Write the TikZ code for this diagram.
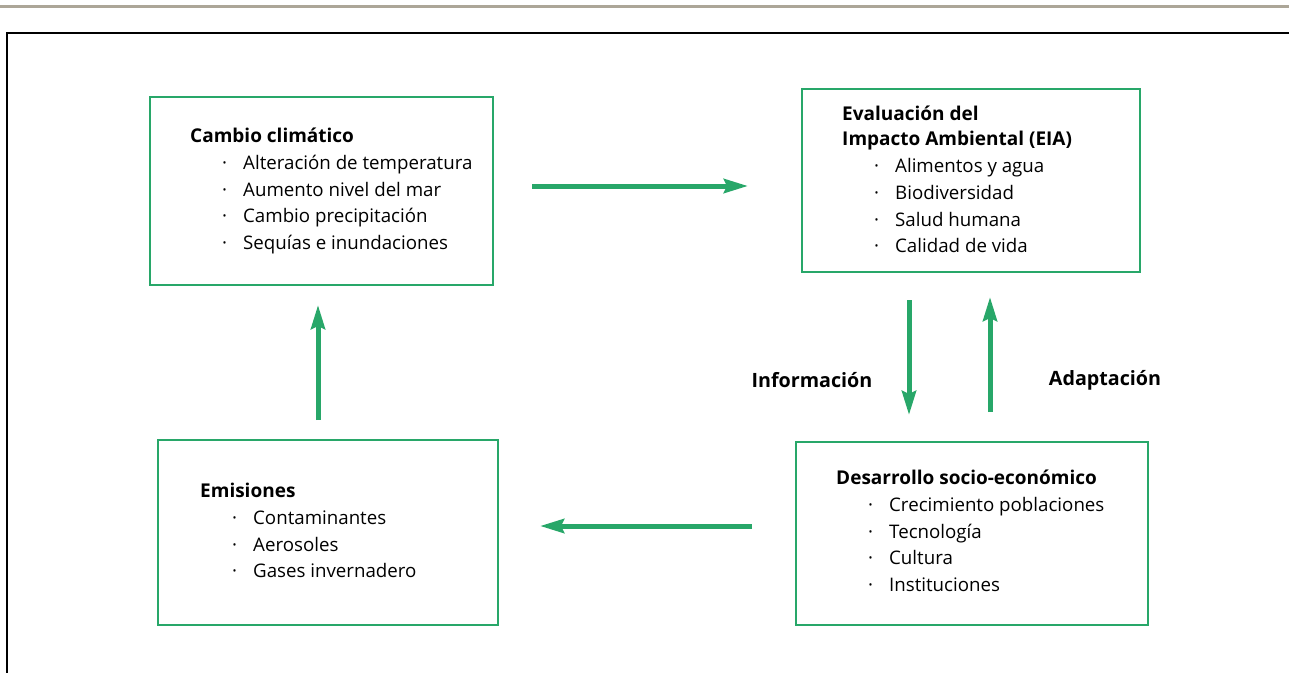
\documentclass[tikz,border=0pt]{standalone}
\usepackage{fontspec}
\setmainfont{Open Sans}
\usetikzlibrary{arrows.meta,positioning}

\definecolor{boxgreen}{RGB}{40,167,105}
\definecolor{rulegray}{RGB}{172,166,152}
\newcommand{\itm}[1]{\hspace*{32pt}\makebox[21pt][l]{·}#1}
\newcommand{\ttl}[1]{{\fontsize{19}{26.7}\selectfont\bfseries #1}}

\begin{document}
\begin{tikzpicture}[x=1pt, y=-1pt,
  box/.style={draw=boxgreen, line width=2.5pt, inner sep=0pt},
  txt/.style={align=left, anchor=north west, inner sep=0pt, font=\fontsize{18.7}{26.7}\selectfont},
  arrow/.style={draw=boxgreen, line width=5pt, -{Stealth[length=24pt, width=14pt, inset=3pt]}},
  lbl/.style={font=\fontsize{19.7}{22}\selectfont\bfseries, inner sep=0pt},
]
\useasboundingbox (0,0) rectangle (1289,673);

% frame
\draw[rulegray, line width=3pt] (0,6) -- (1289,6);
\draw[line width=1.5pt] (1289,33) -- (7,33) -- (7,673);

% === BOXES ===
\node[box, minimum width=343pt, minimum height=188pt] (cambio) at (321.5,191) {};
\node[box, minimum width=338pt, minimum height=183pt] (eia) at (971,180.5) {};
\node[box, minimum width=340pt, minimum height=185pt] (emis) at (328,532.5) {};
\node[box, minimum width=352pt, minimum height=183pt] (desa) at (972,533.5) {};

\node[txt] (cambiotxt) at (190,128) {\ttl{Cambio climático}\\
  \itm{Alteración de temperatura}\\
  \itm{Aumento nivel del mar}\\
  \itm{Cambio precipitación}\\
  \itm{Sequías e inundaciones}};
\node[txt] (eiatxt) at (842,106) {\ttl{Evaluación del}\\[-1.5pt]
  \ttl{Impacto Ambiental (EIA)}\\
  \itm{Alimentos y agua}\\
  \itm{Biodiversidad}\\
  \itm{Salud humana}\\
  \itm{Calidad de vida}};
\node[txt] (emistxt) at (200,483) {\ttl{Emisiones}\\
  \itm{Contaminantes}\\
  \itm{Aerosoles}\\
  \itm{Gases invernadero}};
\node[txt] (desatxt) at (836,470) {\ttl{Desarrollo socio-económico}\\
  \itm{Crecimiento poblaciones}\\
  \itm{Tecnología}\\
  \itm{Cultura}\\
  \itm{Instituciones}};

% === ARROWS ===
\coordinate (c2eA) at (532,186);
\coordinate (c2eB) at (748,186);
\coordinate (d2eA) at (752,526);
\coordinate (d2eB) at (540,526);
\coordinate (e2cA) at (318,420);
\coordinate (e2cB) at (318,305);
\coordinate (infoA) at (909,300);
\coordinate (infoB) at (909,415);
\coordinate (adapA) at (990,412);
\coordinate (adapB) at (990,297);

\draw[arrow] (c2eA) -- (c2eB);
\draw[arrow] (d2eA) -- (d2eB);
\draw[arrow] (e2cA) -- (e2cB);
\draw[arrow] (infoA) -- (infoB);
\draw[arrow] (adapA) -- (adapB);

\node[lbl] (info) at (812,380) {Información};
\node[lbl] (adap) at (1105,380) {Adaptación};
\end{tikzpicture}
\end{document}
